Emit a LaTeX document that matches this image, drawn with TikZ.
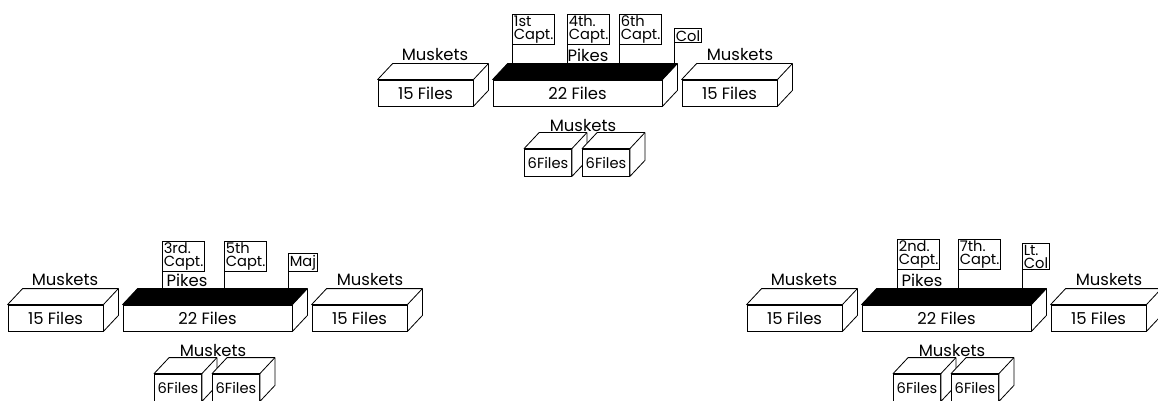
\documentclass[tikz,border=0pt]{standalone}
\usepackage{fontspec}
\setmainfont{Poppins}
\usetikzlibrary{calc}

\begin{document}
\begin{tikzpicture}[
    x=0.03cm, y=-0.03cm,
    line width=0.7pt,
    block/.style={
        draw, fill=white, inner sep=0pt,
        font=\fontsize{14}{14}\selectfont
    },
    bigblock/.style={block, minimum width=2.85cm, minimum height=0.78cm},
    pikeblock/.style={block, minimum width=5.07cm, minimum height=0.78cm},
    smallblock/.style={block, minimum width=1.41cm, minimum height=0.81cm,
        font=\fontsize{12.5}{12.5}\selectfont},
    face/.style={draw, fill=white, line join=round},
    lbl/.style={font=\fontsize{14}{14}\selectfont, inner sep=0pt},
    officer/.style={
        draw, fill=white, anchor=south west, align=left,
        inner sep=1.2pt, font=\fontsize{12.5}{11}\selectfont
    },
    tie/.style={draw}
]
\useasboundingbox (0,0) rectangle (1158,401);

% the three battalions, same layout
\foreach \g/\sx/\sy in {t/0/0, bl/-370/225, br/369/225} {
\begin{scope}[shift={(\sx,\sy)}]
  \node[bigblock]  (\g-lm) at (425.5,93) {15 Files};
  \node[pikeblock] (\g-pk) at (577.5,93) {22 Files};
  \node[bigblock]  (\g-rm) at (729.5,93) {15 Files};
  \node[lbl] (\g-lml) at (435,55) {Muskets};
  \node[lbl] (\g-rml) at (740,55) {Muskets};
  \node[lbl] (\g-sml) at (583,126) {Muskets};
  \node[smallblock] (\g-s1) at (548,162.5) {6Files};

  % top and side faces
  \foreach \b in {lm,pk,rm,s1} {
    \draw[face] (\g-\b.north west) -- ++(15,-16)
      -- ($(\g-\b.north east)+(15,-16)$)
      -- ($(\g-\b.south east)+(15,-16)$) -- (\g-\b.south east)
      -- (\g-\b.north east) -- cycle;
    \draw (\g-\b.north east) -- ++(15,-16);
  }
  \node[smallblock] (\g-s2) at (606,162.5) {6Files};
  \draw[face] (\g-s2.north west) -- ++(15,-16)
    -- ($(\g-s2.north east)+(15,-16)$)
    -- ($(\g-s2.south east)+(15,-16)$) -- (\g-s2.south east)
    -- (\g-s2.north east) -- cycle;
  \draw (\g-s2.north east) -- ++(15,-16);

  % pikes: black top
  \fill[black] (\g-pk.north west) -- ++(15,-16)
    -- ($(\g-pk.north east)+(15,-16)$) -- (\g-pk.north east) -- cycle;
  \coordinate (\g-bk) at ($(\g-pk.north west)+(15,-16)$);
\end{scope}
}

% officers, top
\node[officer] (t-c1) at (512,45) {1st\\Capt.};
\node[officer] (t-c4) at (567,45) {4th.\\Capt.};
\node[officer] (t-c6) at (619,45) {6th\\Capt.};
\node[officer] (t-col) at (674,43) {Col};
\node[lbl] (t-pl) at (588,55) {Pikes};
\foreach \o in {c1,c4,c6,col}
  \draw[tie] (t-\o.south west) -- (t-\o.south west |- t-bk);

% officers, bottom left
\begin{scope}[shift={(-370,225)}]
\node[officer] (bl-c3) at (532,47) {3rd.\\Capt.};
\node[officer] (bl-c5) at (594,47) {5th\\Capt.};
\node[officer] (bl-maj) at (658,47) {Maj};
\node[lbl] (bl-pl) at (557,55) {Pikes};
\end{scope}
\foreach \o in {c3,c5,maj}
  \draw[tie] (bl-\o.south west) -- (bl-\o.south west |- bl-bk);

% officers, bottom right
\begin{scope}[shift={(369,225)}]
\node[officer] (br-c2) at (528,45) {2nd.\\Capt.};
\node[officer] (br-c7) at (589,45) {7th.\\Capt.};
\node[officer] (br-lc) at (653,45) {Lt.\\Col};
\node[lbl] (br-pl) at (553,55) {Pikes};
\end{scope}
\foreach \o in {c2,c7,lc}
  \draw[tie] (br-\o.south west) -- (br-\o.south west |- br-bk);

\end{tikzpicture}
\end{document}
